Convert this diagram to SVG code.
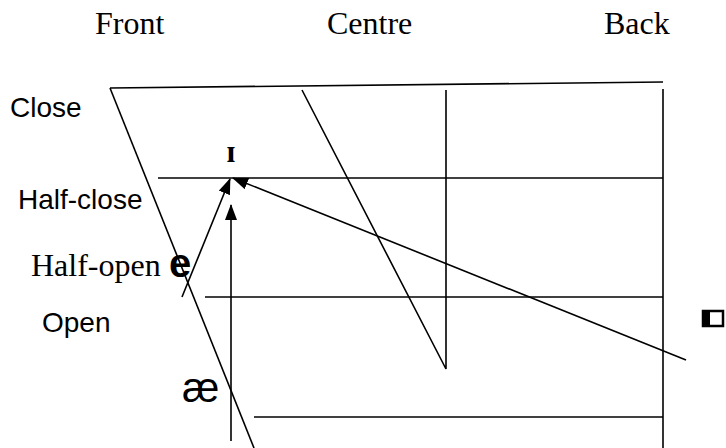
<svg xmlns="http://www.w3.org/2000/svg" width="726" height="448" viewBox="0 0 726 448">
<style>
.ln{stroke:#000;stroke-width:1.6;fill:none}
.ser{font-family:"Liberation Serif","Times New Roman",serif;font-size:32px;fill:#000}
.san{font-family:"Liberation Sans",Arial,sans-serif;font-size:28px;fill:#000}
</style>
<defs>
<marker id="ah" viewBox="0 0 16 12" refX="15" refY="6" markerWidth="16" markerHeight="12" markerUnits="userSpaceOnUse" orient="auto">
<path d="M0,0 L16,6 L0,12 Z" fill="#000"/>
</marker>
</defs>
<g id="headers">
<text class="ser" x="95" y="34">Front</text>
<text class="ser" x="327" y="34">Centre</text>
<text class="ser" x="604" y="34">Back</text>
</g>
<g id="labels">
<text class="san" x="10" y="117">Close</text>
<text class="san" x="18" y="209">Half-close</text>
<text class="ser" x="31" y="276">Half-open</text>
<text class="san" x="42" y="332">Open</text>
</g>
<g id="grid">
<line class="ln" x1="110" y1="88" x2="663" y2="82"/>
<line class="ln" x1="110" y1="88" x2="254" y2="448"/>
<polyline class="ln" points="302,90 446,369 446,90"/>
<line class="ln" x1="663" y1="89" x2="663" y2="448"/>
<line class="ln" x1="158" y1="178" x2="663" y2="178"/>
<line class="ln" x1="205" y1="297" x2="663" y2="297"/>
<line class="ln" x1="254" y1="417" x2="663" y2="417"/>
</g>
<g id="vowel-i"><text x="231" y="162" text-anchor="middle" style="font-family:'Liberation Serif','DejaVu Serif',serif;font-size:31px;font-weight:bold">ɪ</text></g>
<g id="vowel-e"><text x="169" y="277" style="font-family:'Liberation Sans',Arial,sans-serif;font-size:40px;font-weight:bold">e</text></g>
<g id="vowel-ae"><text x="182" y="402" style="font-family:'Liberation Sans',Arial,sans-serif;font-size:42px">æ</text></g>
<g id="vowel-back"><rect x="703" y="311" width="20" height="15" fill="none" stroke="#000" stroke-width="2.5"/><rect x="703" y="311" width="7" height="15" fill="#000"/></g>
<g id="connectors">
<line class="ln" x1="182" y1="297" x2="230" y2="179" marker-end="url(#ah)"/>
<line class="ln" x1="231" y1="441" x2="231" y2="205" marker-end="url(#ah)"/>
<line class="ln" x1="686" y1="360" x2="233" y2="178" marker-end="url(#ah)"/>
</g>
</svg>
